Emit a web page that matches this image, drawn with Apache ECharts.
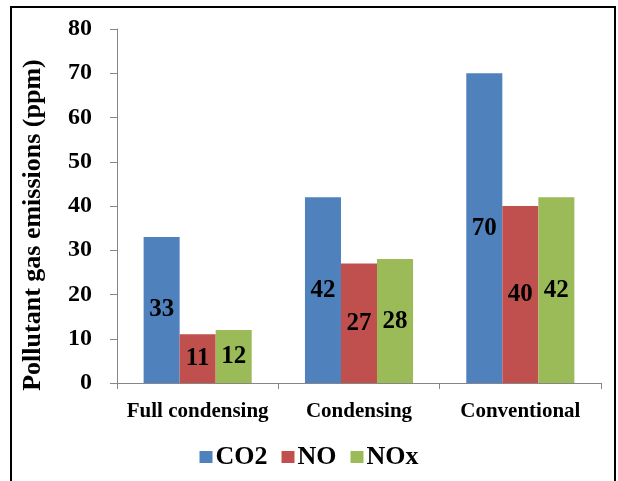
<!DOCTYPE html>
<html>
<head>
<meta charset="utf-8">
<style>
  html, body { margin: 0; padding: 0; background: #fff; }
  #chart { width: 618px; height: 481px; }
</style>
<script src="https://cdn.jsdelivr.net/npm/echarts@6/dist/echarts.min.js"></script>
</head>
<body>
<div id="chart"></div>
<script>
// Boiler types and measured pollutant concentrations (ppm)
const categories = ['Full condensing', 'Condensing', 'Conventional'];
const co2 = [33, 42, 70];
const no = [11, 27, 40];
const nox = [12, 28, 42];
const yTicks = { min: 0, max: 80, interval: 10 };

const serif = "'Liberation Serif', 'Times New Roman', serif";

const chart = echarts.init(document.getElementById('chart'), null, { renderer: 'canvas' });

const barLabel = {
  show: true,
  position: 'inside',
  color: '#000',
  fontFamily: serif,
  fontWeight: 'bold',
  fontSize: 25
};

function barSeries(name, data, color) {
  return {
    name: name,
    type: 'bar',
    data: data,
    barGap: '0%',
    barCategoryGap: '33%',
    itemStyle: { color: color },
    label: barLabel
  };
}

chart.setOption({
  animation: false,
  backgroundColor: '#fff',
  graphic: [{
    type: 'rect',
    shape: { x: 11, y: 7, width: 604, height: 500 },
    style: { fill: 'none', stroke: '#000', lineWidth: 2 },
    silent: true
  }],
  grid: { left: 117, right: 17, top: 29, bottom: 98, containLabel: false },
  legend: {
    bottom: 6,
    left: 'center',
    itemWidth: 13,
    itemHeight: 12,
    itemGap: 14,
    icon: 'rect',
    textStyle: { fontFamily: serif, fontWeight: 'bold', fontSize: 26, color: '#000', padding: [0, 0, 0, -2] },
    data: ['CO2', 'NO', 'NOx']
  },
  xAxis: {
    type: 'category',
    data: categories,
    axisLine: { lineStyle: { color: '#868686', width: 1 } },
    axisTick: { show: true, length: 6, lineStyle: { color: '#868686' } },
    axisLabel: { interval: 0, hideOverlap: false, margin: 18, color: '#000', fontFamily: serif, fontWeight: 'bold', fontSize: 21 },
    splitLine: { show: false }
  },
  yAxis: {
    type: 'value',
    min: yTicks.min,
    max: yTicks.max,
    interval: yTicks.interval,
    name: 'Pollutant gas emissions (ppm)',
    nameLocation: 'middle',
    nameGap: 71,
    nameRotate: 90,
    nameTextStyle: { fontFamily: serif, fontWeight: 'bold', fontSize: 26, color: '#000', padding: [0, 38, 0, 0] },
    axisLine: { show: true, lineStyle: { color: '#868686', width: 1 } },
    axisTick: { show: true, length: 7, lineStyle: { color: '#868686', width: 1 } },
    axisLabel: { margin: 25, color: '#000', fontFamily: serif, fontWeight: 'bold', fontSize: 24 },
    splitLine: { show: false }
  },
  series: [
    barSeries('CO2', co2, '#4F81BD'),
    barSeries('NO', no, '#C0504D'),
    barSeries('NOx', nox, '#9BBB59')
  ]
});
</script>
</body>
</html>
